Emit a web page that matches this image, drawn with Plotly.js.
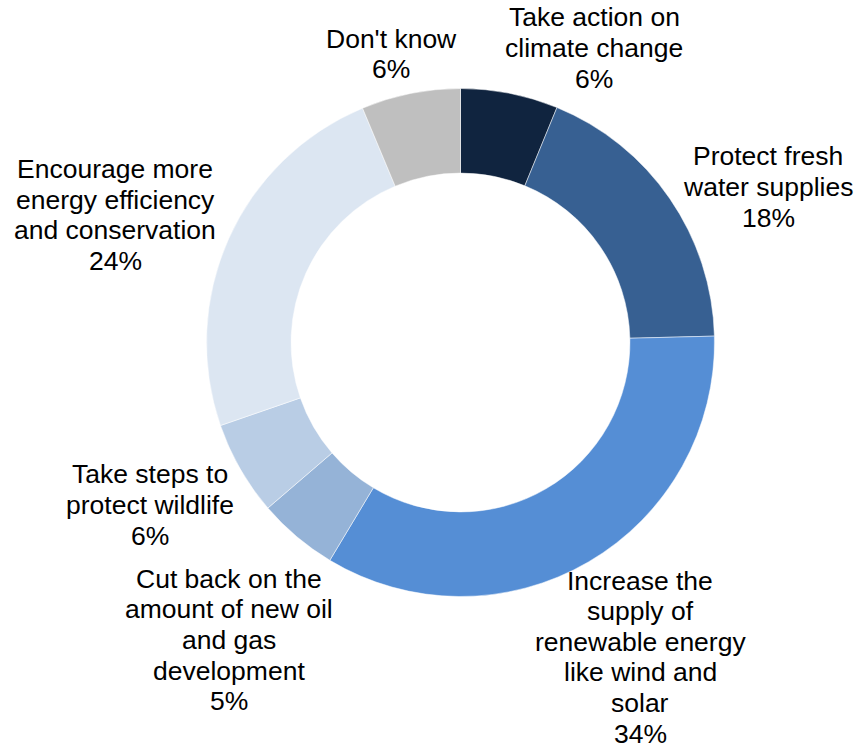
<!DOCTYPE html>
<html>
<head>
<meta charset="utf-8">
<script src="https://cdn.plot.ly/plotly-3.0.1.min.js"></script>
<style>html,body{margin:0;padding:0;background:#fff;}#chart{width:856px;height:747px;}</style>
</head>
<body>
<div id="chart"></div>
<script>
// ---- data ----
const categories = [
  "Take action on<br>climate change",
  "Protect fresh<br>water supplies",
  "Increase the<br>supply of<br>renewable energy<br>like wind and<br>solar",
  "Cut back on the<br>amount of new oil<br>and gas<br>development",
  "Take steps to<br>protect wildlife",
  "Encourage more<br>energy efficiency<br>and conservation",
  "Don't know"
];
const values = [6.2, 18.4, 34.0, 5.1, 6.0, 24.0, 6.3];
const colors = ["#10243F", "#376092", "#558ED5", "#95B3D7", "#B9CDE5", "#DCE6F2", "#BFBFBF"];

// ---- label placement (pixel centres of each text block) ----
const W = 856, H = 747;
const labelPos = [[594, 48], [768, 187], [640, 657], [229, 640], [150, 505], [115, 215], [391, 54]];
const lineGap = 30.6;
const fontSize = 26.5;

const total = values.reduce((a, b) => a + b, 0);
const annotations = [];
categories.forEach((c, i) => {
  const lines = (c + "<br>" + Math.round(values[i] / total * 100) + "%").split("<br>");
  const n = lines.length;
  lines.forEach((ln, k) => {
    const py = labelPos[i][1] + (k - (n - 1) / 2) * lineGap;
    annotations.push({
      text: ln,
      x: labelPos[i][0] / W,
      y: 1 - py / H,
      xref: "paper", yref: "paper",
      xanchor: "center", yanchor: "middle",
      showarrow: false,
      font: {family: "Liberation Sans, Arial, sans-serif", size: fontSize, color: "#000"}
    });
  });
});

const cx = 460.5, cy = 342.5, r = 254;
const trace = {
  type: "pie",
  labels: categories,
  values: values,
  hole: 0.667,
  sort: false,
  direction: "clockwise",
  rotation: 0,
  textinfo: "none",
  hoverinfo: "label+percent",
  marker: {colors: colors, line: {color: "#ffffff", width: 0.5}},
  domain: {x: [(cx - r) / W, (cx + r) / W], y: [(H - cy - r) / H, (H - cy + r) / H]},
  showlegend: false
};

Plotly.newPlot("chart", [trace], {
  width: W, height: H,
  margin: {l: 0, r: 0, t: 0, b: 0},
  paper_bgcolor: "#ffffff",
  showlegend: false,
  annotations: annotations
}, {displayModeBar: false, staticPlot: true});
</script>
</body>
</html>
